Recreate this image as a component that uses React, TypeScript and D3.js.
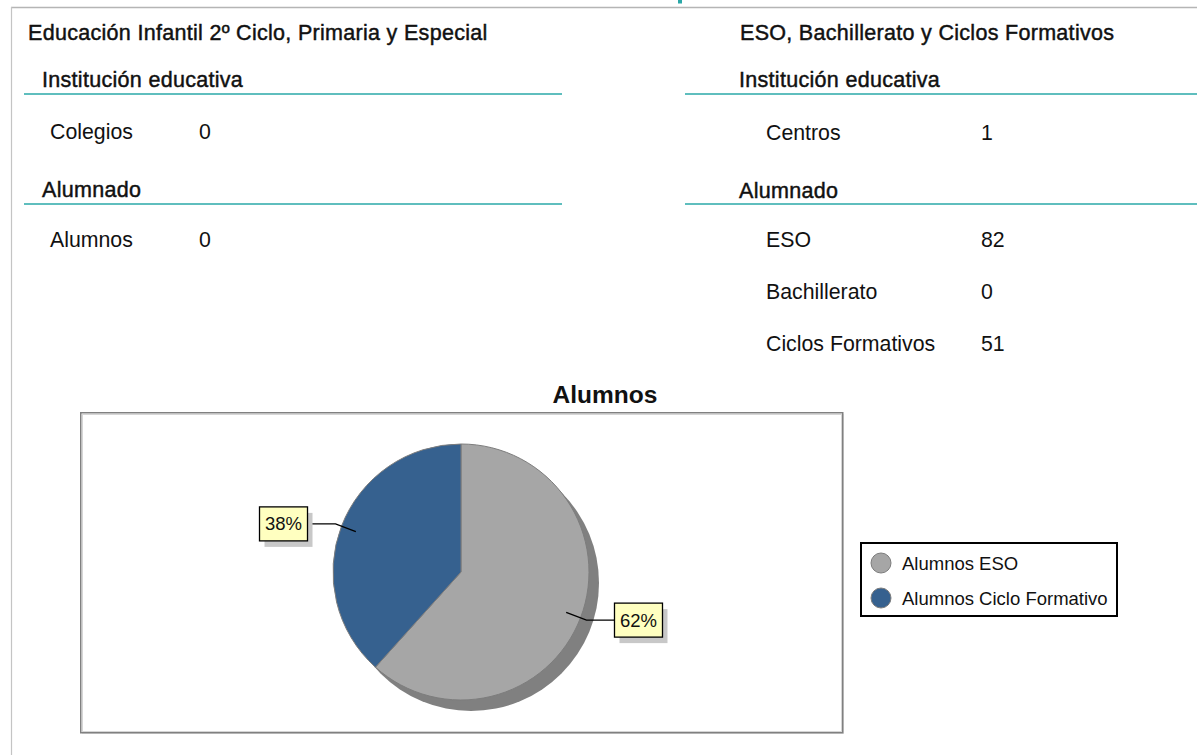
import React from "react";
import * as d3 from "d3";

// ---- data ----
const sectionTitles = [
  "Educación Infantil 2º Ciclo, Primaria y Especial",
  "ESO, Bachillerato y Ciclos Formativos",
];
const groupHeaders = ["Institución educativa", "Alumnado"];
const leftInstLabels = ["Colegios"];
const leftInstValues = [0];
const leftStudLabels = ["Alumnos"];
const leftStudValues = [0];
const rightInstLabels = ["Centros"];
const rightInstValues = [1];
const rightStudLabels = ["ESO", "Bachillerato", "Ciclos Formativos"];
const rightStudValues = [82, 0, 51];

const chartTitle = "Alumnos";
const pieCategories = ["Alumnos ESO", "Alumnos Ciclo Formativo"];
const pieValues = [82, 51];
const pieColors = ["#a6a6a6", "#36618f"];

const FONT = "'Liberation Sans', Arial, Helvetica, sans-serif";
const TEAL = "#2aa8a8";
const INK = "#111";

function Header({ x, y, text, size = 21.5 }: { x: number; y: number; text: string; size?: number }) {
  return (
    <text x={x} y={y} fontSize={size} fill={INK} stroke={INK} strokeWidth={0.45} letterSpacing={0.3}>
      {text}
    </text>
  );
}

export default function App() {
  const cx = 461;
  const cy = 572;
  const r = 128;
  const total = d3.sum(pieValues);
  const pie = d3
    .pie<number>()
    .sort(null)
    .value((d) => d)
    .startAngle(0)
    .endAngle(2 * Math.PI);
  const arcs = pie(pieValues);
  const arc = d3.arc<d3.PieArcDatum<number>>().innerRadius(0).outerRadius(r);
  const pct = d3.format(".0%");

  const leftRows = [
    { header: groupHeaders[0], hy: 87, ly: 94, labels: leftInstLabels, values: leftInstValues, ys: [139] },
    { header: groupHeaders[1], hy: 197, ly: 204, labels: leftStudLabels, values: leftStudValues, ys: [247] },
  ];
  const rightRows = [
    { header: groupHeaders[0], hy: 87, ly: 94, labels: rightInstLabels, values: rightInstValues, ys: [140] },
    { header: groupHeaders[1], hy: 198, ly: 204, labels: rightStudLabels, values: rightStudValues, ys: [247, 299, 351] },
  ];

  return (
    <svg
      width={1197}
      height={755}
      style={{ position: "absolute", left: 0, top: 0, background: "#fff" }}
      fontFamily={FONT}
    >
      <rect x={0} y={0} width={1197} height={755} fill="#fff" />
      {/* page frame */}
      <line x1={11} y1={7.5} x2={1197} y2={7.5} stroke="#b5b5b5" strokeWidth={1.5} />
      <line x1={11.5} y1={7} x2={11.5} y2={755} stroke="#c4c4c4" strokeWidth={1.2} />
      <rect x={678} y={0} width={4} height={3.5} fill={TEAL} />

      {/* section titles */}
      <Header x={28} y={40} text={sectionTitles[0]} size={21.5} />
      <Header x={740} y={40} text={sectionTitles[1]} size={21.5} />

      {/* left block */}
      {leftRows.map((g, gi) => (
        <g key={"l" + gi}>
          <Header x={42} y={g.hy} text={g.header} />
          <line x1={24} x2={562} y1={g.ly} y2={g.ly} stroke={TEAL} strokeWidth={1.6} />
          {g.labels.map((lab, i) => (
            <g key={i}>
              <text x={50} y={g.ys[i]} fontSize={21.3} fill={INK}>
                {lab}
              </text>
              <text x={199} y={g.ys[i]} fontSize={21.3} fill={INK}>
                {g.values[i]}
              </text>
            </g>
          ))}
        </g>
      ))}

      {/* right block */}
      {rightRows.map((g, gi) => (
        <g key={"r" + gi}>
          <Header x={739} y={g.hy} text={g.header} />
          <line x1={685} x2={1197} y1={g.ly} y2={g.ly} stroke={TEAL} strokeWidth={1.6} />
          {g.labels.map((lab, i) => (
            <g key={i}>
              <text x={766} y={g.ys[i]} fontSize={21.3} fill={INK}>
                {lab}
              </text>
              <text x={981} y={g.ys[i]} fontSize={21.3} fill={INK}>
                {g.values[i]}
              </text>
            </g>
          ))}
        </g>
      ))}

      {/* chart title */}
      <text x={605} y={403} fontSize={24.5} fontWeight="bold" textAnchor="middle" fill={INK}>
        {chartTitle}
      </text>

      {/* chart plot box */}
      <rect x={82} y={414} width={762} height={320} fill="#e8e8e8" />
      <rect x={80.75} y={412.75} width={762} height={320} fill="#fff" stroke="#808080" strokeWidth={1.5} />
      <rect x={82.5} y={414.5} width={759} height={317} fill="none" stroke="#d6d6d6" strokeWidth={1} />

      {/* pie shadow */}
      <circle cx={cx + 10} cy={cy + 11} r={r} fill="#808080" />
      {/* pie slices */}
      <g transform={`translate(${cx},${cy})`}>
        {arcs.map((a, i) => (
          <path key={i} d={arc(a) || ""} fill={pieColors[i]} stroke="#7d7d7d" strokeWidth={1} />
        ))}
      </g>

      {/* labels with leaders */}
      {arcs.map((a, i) => {
        const mid = (a.startAngle + a.endAngle) / 2;
        const dx = Math.sin(mid);
        const dy = -Math.cos(mid);
        const p1 = [cx + dx * r * 0.88, cy + dy * r * 0.88];
        const p2 = [cx + dx * r * 1.05, cy + dy * r * 1.05];
        const right = dx > 0;
        const boxW = 48;
        const boxH = 34;
        const p3x = right ? p2[0] + 28 : p2[0] - 28;
        const bx = right ? p3x : p3x - boxW;
        const by = p2[1] - boxH / 2;
        return (
          <g key={"lab" + i}>
            <polyline
              points={`${p1[0]},${p1[1]} ${p2[0]},${p2[1]} ${p3x},${p2[1]}`}
              fill="none"
              stroke="#000"
              strokeWidth={1.3}
            />
            <rect x={bx + 5} y={by + 6} width={boxW} height={boxH} fill="#c8c8c8" />
            <rect x={bx} y={by} width={boxW} height={boxH} fill="#ffffc0" stroke="#000" strokeWidth={1.3} />
            <text x={bx + boxW / 2} y={by + boxH / 2 + 6.5} fontSize={18.5} textAnchor="middle" fill={INK}>
              {pct(a.data / total)}
            </text>
          </g>
        );
      })}

      {/* legend */}
      <rect x={861} y={543} width={256} height={73} fill="#fff" stroke="#000" strokeWidth={2} />
      {pieCategories.map((c, i) => (
        <g key={"lg" + i}>
          <circle cx={881} cy={563 + i * 35} r={10} fill={pieColors[i]} stroke="#7d7d7d" strokeWidth={1} />
          <text x={902} y={569.5 + i * 35} fontSize={18.5} fill={INK}>
            {c}
          </text>
        </g>
      ))}
    </svg>
  );
}
